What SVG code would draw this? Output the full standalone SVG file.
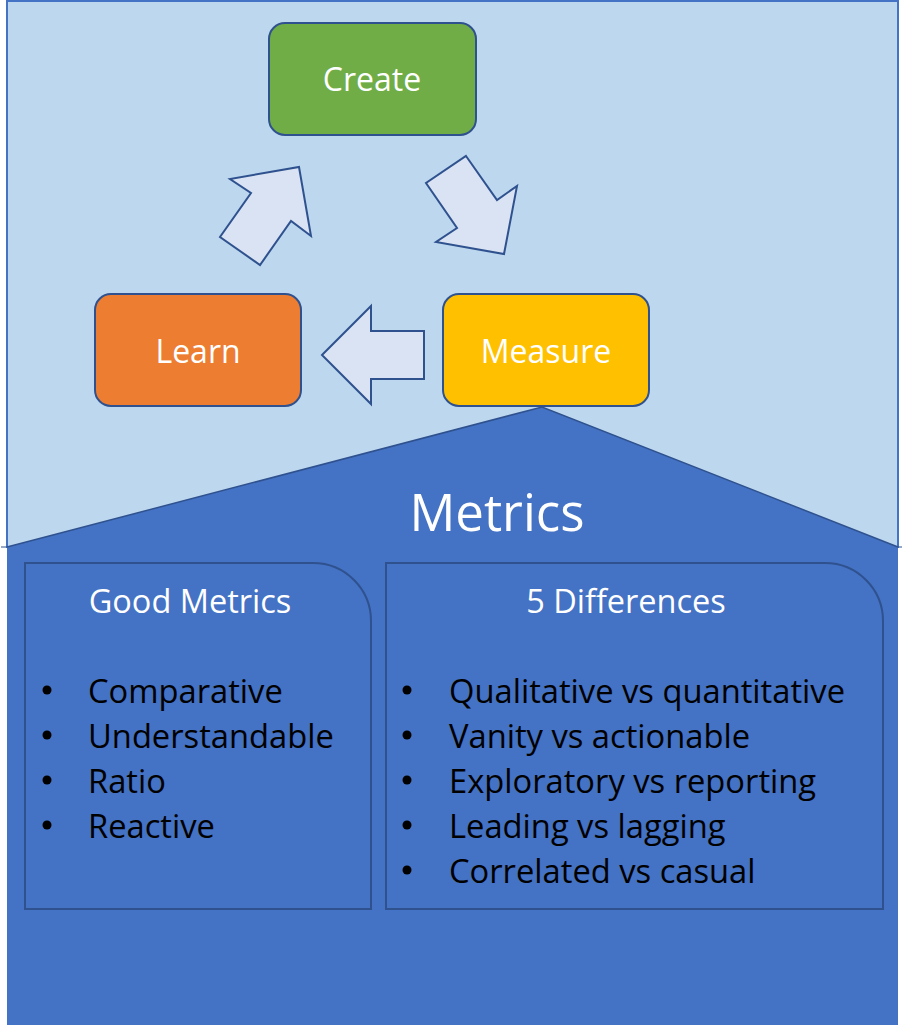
<svg xmlns="http://www.w3.org/2000/svg" width="903" height="1025" viewBox="0 0 903 1025">
<style>
.node{stroke:#2F528F;stroke-width:2}
.lbl{font-family:"Open Sans","Noto Sans",sans-serif;fill:#fff;text-anchor:middle}
.arrow{fill:#DAE3F3;stroke:#2F528F;stroke-width:2;stroke-linejoin:miter}
.item{font-family:"Open Sans","Noto Sans",sans-serif;font-size:32.7px;fill:#000}
.panel{fill:none;stroke:#2F528F;stroke-width:2}
</style>
<g id="background">
<rect x="7" y="1" width="891" height="546" fill="#BDD7EE" stroke="#4472C4" stroke-width="2"/>
<line x1="1" y1="547" x2="902" y2="547" stroke="#2F528F" stroke-width="1"/>
</g>
<g id="metrics">
<path d="M7,547 L542,407 L898,547 L898,1025 L7,1025 Z" fill="#4472C4"/>
<path d="M7,547 L542,407 L898,547" fill="none" stroke="#2F528F" stroke-width="1.5"/>
<text class="lbl" x="497" y="531" font-size="51">Metrics</text>
</g>
<g id="create">
<rect class="node" x="269" y="23" width="207" height="112" rx="16" fill="#70AD47"/>
<text class="lbl" x="372" y="91" font-size="32">Create</text>
</g>
<g id="learn">
<rect class="node" x="95" y="294" width="206" height="112" rx="16" fill="#ED7D31"/>
<text class="lbl" x="198" y="363" font-size="32">Learn</text>
</g>
<g id="measure">
<rect class="node" x="443" y="294" width="206" height="112" rx="16" fill="#FFC000"/>
<text class="lbl" x="546" y="363" font-size="32">Measure</text>
</g>
<g id="connectors">
<polygon class="arrow" points="466,156 497,200 517,186 504,254 436,242 457,228 426,183"/>
<polygon class="arrow" points="322,355 371,306 371,331 424,331 424,379 371,379 371,404"/>
<polygon class="arrow" points="299,167 311,236 291,221 260,265 220,237 251,193 230,179"/>
</g>
<g id="good-metrics">
<path class="panel" d="M25,563 H313 A58,58 0 0 1 371,621 V909 H25 Z"/>
<text class="lbl" x="190" y="613" font-size="32.5">Good Metrics</text>
<g class="item">
<circle cx="47" cy="690" r="4.5"/><text x="88" y="703">Comparative</text>
<circle cx="47" cy="735" r="4.5"/><text x="88" y="748">Understandable</text>
<circle cx="47" cy="780" r="4.5"/><text x="88" y="793">Ratio</text>
<circle cx="47" cy="825" r="4.5"/><text x="88" y="838">Reactive</text>
</g>
</g>
<g id="five-differences">
<path class="panel" d="M386,563 H825 A58,58 0 0 1 883,621 V909 H386 Z"/>
<text class="lbl" x="626" y="613" font-size="32.5">5 Differences</text>
<g class="item">
<circle cx="407" cy="690" r="4.5"/><text x="449" y="703">Qualitative vs quantitative</text>
<circle cx="407" cy="735" r="4.5"/><text x="449" y="748">Vanity vs actionable</text>
<circle cx="407" cy="780" r="4.5"/><text x="449" y="793">Exploratory vs reporting</text>
<circle cx="407" cy="825" r="4.5"/><text x="449" y="838">Leading vs lagging</text>
<circle cx="407" cy="870" r="4.5"/><text x="449" y="883">Correlated vs casual</text>
</g>
</g>
</svg>
